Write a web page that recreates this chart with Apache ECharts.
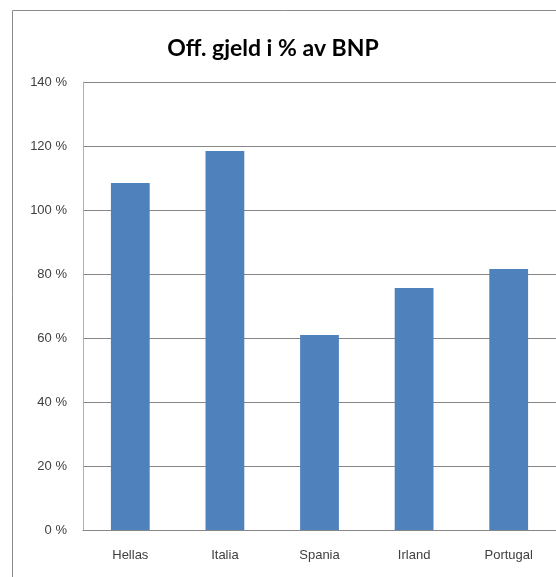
<!DOCTYPE html>
<html>
<head>
<meta charset="utf-8">
<script src="https://cdn.jsdelivr.net/npm/echarts@6/dist/echarts.min.js"></script>
<style>
  html, body { margin: 0; padding: 0; background: #fff; }
  #chart { width: 556px; height: 577px; }
</style>
</head>
<body>
<div id="chart"></div>
<script>
// Government debt as share of GDP
const categories = ['Hellas', 'Italia', 'Spania', 'Irland', 'Portugal'];
const debtShare = [108.4, 118.4, 60.9, 75.6, 81.6];
const yTicks = { min: 0, max: 140, step: 20 };

const fontFamily = "'Liberation Sans', Arial, sans-serif";
const titleFont = "Lato, 'Liberation Sans', sans-serif";
const chart = echarts.init(document.getElementById('chart'), null, { renderer: 'canvas' });

chart.setOption({
  animation: false,
  backgroundColor: '#ffffff',
  title: {
    text: 'Off. gjeld i % av BNP',
    left: 268,
    top: 32,
    textAlign: 'center',
    textStyle: { fontFamily: titleFont, fontWeight: 'bold', fontSize: 23, color: '#000' }
  },
  graphic: [{
    type: 'rect',
    shape: { x: 12.5, y: 10.5, width: 700, height: 700 },
    style: { fill: 'none', stroke: '#8a8a8a', lineWidth: 1 },
    silent: true
  }],
  grid: { left: 83, top: 82, width: 474, height: 448 },
  xAxis: {
    type: 'category',
    data: categories,
    axisLine: { show: true, lineStyle: { color: '#868686', width: 1 } },
    axisTick: { show: false },
    axisLabel: { margin: 19, fontFamily: fontFamily, fontSize: 13, color: '#404040' }
  },
  yAxis: {
    type: 'value',
    min: yTicks.min,
    max: yTicks.max,
    interval: yTicks.step,
    axisLine: { show: true, lineStyle: { color: '#b0b0b0', width: 1 } },
    axisTick: { show: false },
    splitLine: { show: true, lineStyle: { color: '#868686', width: 1 } },
    axisLabel: { margin: 16, formatter: '{value} %', fontFamily: fontFamily, fontSize: 13, color: '#404040' }
  },
  series: [{
    type: 'bar',
    data: debtShare,
    barWidth: '41%',
    itemStyle: { color: '#4f81bd' }
  }]
});
</script>
</body>
</html>
